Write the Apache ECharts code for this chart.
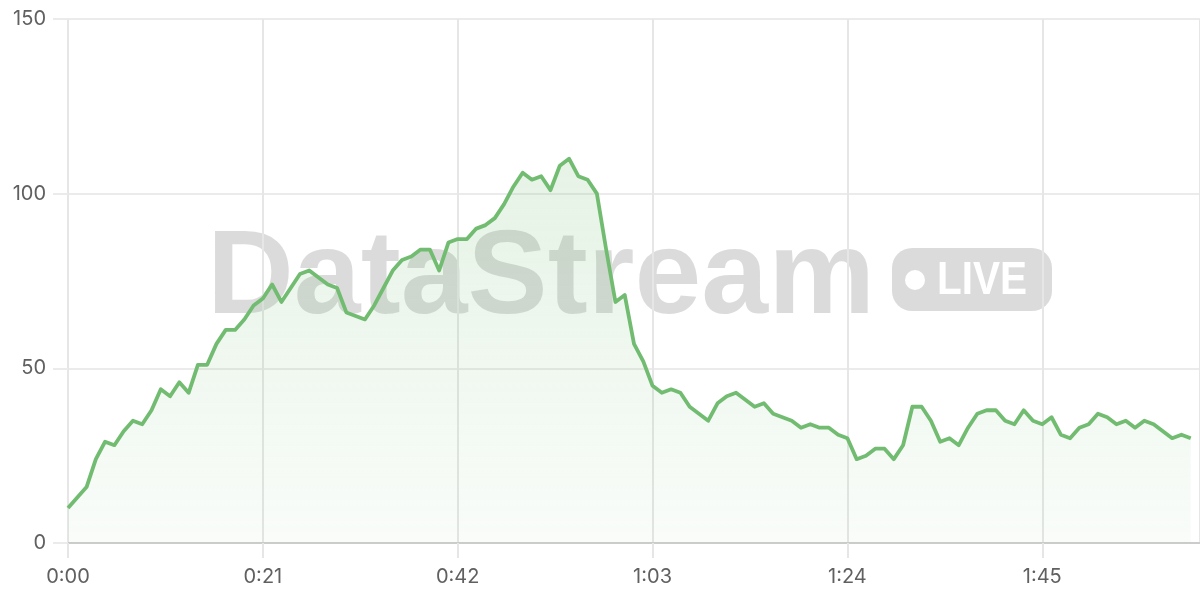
<!DOCTYPE html>
<html>
<head>
<meta charset="utf-8">
<script src="https://cdn.jsdelivr.net/npm/echarts@6/dist/echarts.min.js"></script>
<style>
html,body{margin:0;padding:0;background:#fff;}
#chart{width:1200px;height:600px;}
</style>
</head>
<body>
<div id="chart"></div>
<script>
// samples, one per second starting at 0:00
const values = [10,13,16,24,29,28,32,35,34,38,44,42,46,43,51,51,57,61,61,64,68,70,74,69,73,77,78,76,74,73,66,65,64,68,73,78,81,82,84,84,78,86,87,87,90,91,93,97,102,106,104,105,101,108,110,105,104,100,84,69,71,57,52,45,43,44,43,39,37,35,40,42,43,41,39,40,37,36,35,33,34,33,33,31,30,24,25,27,27,24,28,39,39,35,29,30,28,33,37,38,38,35,34,38,35,34,36,31,30,33,34,37,36,34,35,33,35,34,32,30,31,30];
const xMin = 0, xMax = 122, xInterval = 21;
const yMin = 0, yMax = 150, yInterval = 50;
const watermarkText = 'DataStream';
const badgeText = 'LIVE';

const points = values.map((v, i) => [i, v]);
function fmt(s){ const m = Math.floor(s/60); const ss = s%60; return m + ':' + (ss<10?'0':'') + ss; }

const chart = echarts.init(document.getElementById('chart'));
chart.setOption({
  animation: false,
  grid: {left: 68, right: 0, top: 19, bottom: 57, containLabel: false},
  graphic: [
    {type:'text', z: 0, x: 207, y: 280, scaleX: 1.01, style:{text: watermarkText, x: 0, y: 0, font: 'bold 119px "Liberation Sans", Arial, sans-serif', fill: 'rgba(0,0,0,0.14)', verticalAlign: 'middle', align: 'left'}},
    {type:'rect', z: 0, shape:{x: 892, y: 248, width: 160, height: 63, r: 20}, style:{fill: 'rgba(0,0,0,0.14)'}},
    {type:'circle', z: 1, shape:{cx: 915, cy: 280, r: 10}, style:{fill: '#ffffff'}},
    {type:'text', z: 1, x: 937, y: 281, scaleX: 0.88, style:{text: badgeText, x: 0, y: 0, font: 'bold 46px "Liberation Sans", Arial, sans-serif', fill: '#ffffff', verticalAlign: 'middle', align: 'left'}}
  ],
  xAxis: {
    type: 'value', min: xMin, max: xMax, interval: xInterval,
    axisLine: {show: true, lineStyle: {color: '#cccccc', width: 2}},
    axisTick: {show: true, length: 15, lineStyle: {color: '#e6e6e6', width: 2}},
    splitLine: {show: true, lineStyle: {color: '#e6e6e6', width: 2}},
    axisLabel: {color: '#606060', fontSize: 20, fontFamily: 'Inter, "Noto Sans", sans-serif', margin: 24, formatter: fmt, showMaxLabel: false}
  },
  yAxis: {
    type: 'value', min: yMin, max: yMax, interval: yInterval,
    axisLine: {show: false},
    axisTick: {show: true, length: 15, lineStyle: {color: '#ebebeb', width: 2}},
    splitLine: {show: true, lineStyle: {color: '#ebebeb', width: 2}},
    axisLabel: {color: '#606060', fontSize: 20, fontFamily: 'Inter, "Noto Sans", sans-serif', margin: 22}
  },
  series: [{
    type: 'line', data: points, showSymbol: false, symbol: 'none', z: 5,
    lineStyle: {color: '#72bc72', width: 3.8, join: 'round'},
    areaStyle: {color: new echarts.graphic.LinearGradient(0,0,0,1,[
      {offset: 0, color: 'rgba(114,188,114,0.26)'},
      {offset: 1, color: 'rgba(114,188,114,0.06)'}
    ]), origin: 'start'}
  }]
});
</script>
</body>
</html>
